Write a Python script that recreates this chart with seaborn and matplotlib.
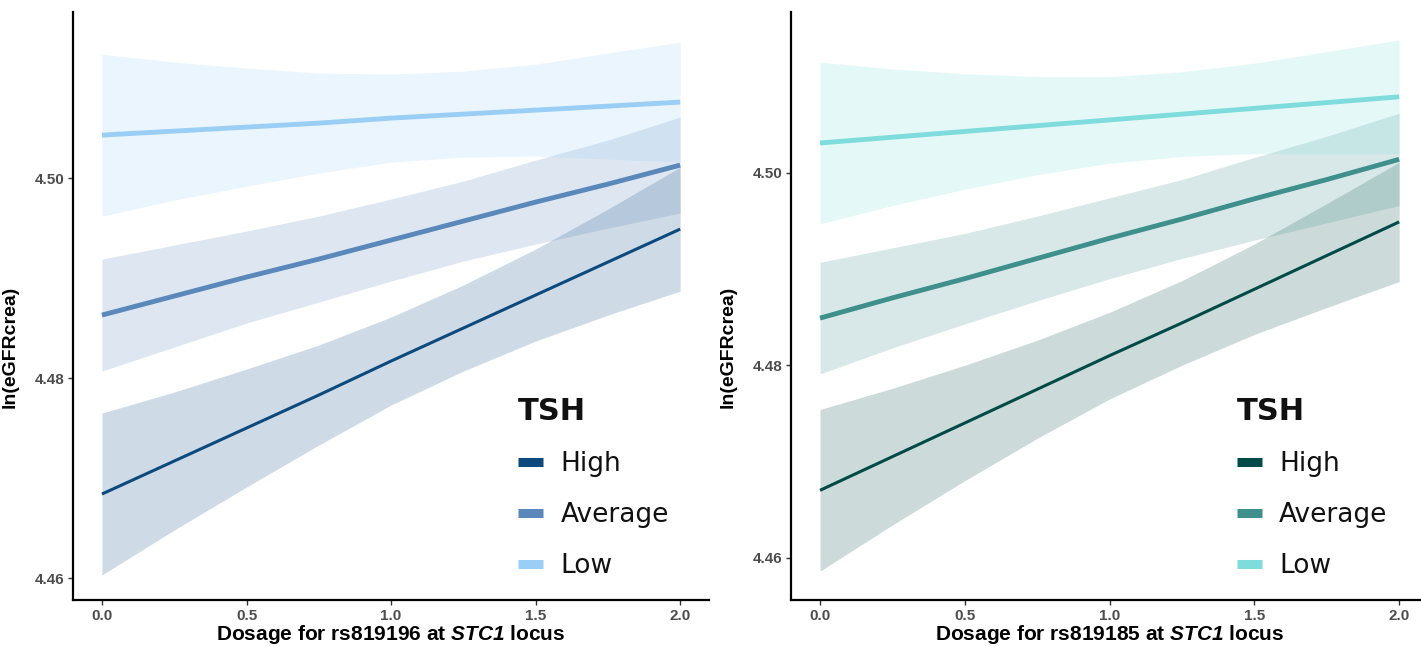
import matplotlib
matplotlib.use("Agg")
import matplotlib.pyplot as plt
from matplotlib.lines import Line2D
import numpy as np
import pandas as pd
import seaborn as sns

# values
dosage = [0.0, 0.25, 0.5, 0.75, 1.0, 1.25, 1.5, 1.75, 2.0]
groups = ["High", "Average", "Low"]

# rs819196 panel
high_fit_196 = [4.4684, 4.4717, 4.4750, 4.4783, 4.4817, 4.4850, 4.4883, 4.4916, 4.4949]
high_lo_196 = [4.4603, 4.4648, 4.4691, 4.4733, 4.4773, 4.4807, 4.4837, 4.4863, 4.4887]
high_hi_196 = [4.4765, 4.4786, 4.4809, 4.4833, 4.4861, 4.4893, 4.4929, 4.4969, 4.5011]
avg_fit_196 = [4.4863, 4.4882, 4.4901, 4.4919, 4.4938, 4.4957, 4.4976, 4.4994, 4.5013]
avg_lo_196 = [4.4807, 4.4831, 4.4855, 4.4876, 4.4897, 4.4917, 4.4934, 4.4950, 4.4965]
avg_hi_196 = [4.4919, 4.4933, 4.4947, 4.4962, 4.4979, 4.4997, 4.5018, 4.5038, 4.5061]
low_fit_196 = [4.5043, 4.5047, 4.5051, 4.5055, 4.5060, 4.5064, 4.5068, 4.5072, 4.5076]
low_lo_196 = [4.4962, 4.4978, 4.4992, 4.5005, 4.5016, 4.5021, 4.5022, 4.5019, 4.5016]
low_hi_196 = [4.5124, 4.5116, 4.5110, 4.5105, 4.5104, 4.5107, 4.5114, 4.5125, 4.5136]

# rs819185 panel
high_fit_185 = [4.4670, 4.4705, 4.4740, 4.4775, 4.4810, 4.4844, 4.4879, 4.4914, 4.4949]
high_lo_185 = [4.4586, 4.4634, 4.4680, 4.4724, 4.4765, 4.4800, 4.4832, 4.4860, 4.4887]
high_hi_185 = [4.4754, 4.4776, 4.4800, 4.4826, 4.4855, 4.4888, 4.4926, 4.4968, 4.5011]
avg_fit_185 = [4.4849, 4.4870, 4.4890, 4.4911, 4.4932, 4.4952, 4.4973, 4.4993, 4.5014]
avg_lo_185 = [4.4791, 4.4818, 4.4843, 4.4867, 4.4890, 4.4911, 4.4930, 4.4948, 4.4966]
avg_hi_185 = [4.4907, 4.4922, 4.4937, 4.4955, 4.4974, 4.4993, 4.5016, 4.5038, 4.5062]
low_fit_185 = [4.5031, 4.5037, 4.5043, 4.5049, 4.5055, 4.5061, 4.5067, 4.5073, 4.5079]
low_lo_185 = [4.4947, 4.4966, 4.4983, 4.4998, 4.5010, 4.5017, 4.5020, 4.5020, 4.5020]
low_hi_185 = [4.5115, 4.5108, 4.5103, 4.5100, 4.5100, 4.5105, 4.5114, 4.5126, 4.5138]

blues = {"High": "#0c4a7e", "Average": "#5a88ba", "Low": "#9acef5"}
teals = {"High": "#004b47", "Average": "#3f8f8c", "Low": "#7fdcdc"}
widths = {"High": 2.2, "Average": 3.5, "Low": 3.5}

sns.set_style("white")
plt.rcParams["font.family"] = ["Liberation Sans", "DejaVu Sans"]
plt.rcParams["mathtext.fontset"] = "custom"
plt.rcParams["mathtext.it"] = "Liberation Sans:italic:bold"
plt.rcParams["mathtext.rm"] = "Liberation Sans:italic:bold"

fig = plt.figure(figsize=(14.21, 6.46), dpi=100)
ax1 = fig.add_axes([0.0514, 0.0712, 0.4476, 0.910])
ax2 = fig.add_axes([0.5567, 0.0712, 0.4483, 0.910])


def panel(ax, fits, los, his, palette, snp, ylim):
    rows = []
    for g, f in zip(groups, fits):
        for d, v in zip(dosage, f):
            rows.append({"dosage": d, "fit": v, "TSH": g})
    df = pd.DataFrame(rows)

    for g, lo, hi in zip(groups, los, his):
        ax.fill_between(dosage, lo, hi, color=palette[g], alpha=0.2, lw=0)

    sns.lineplot(data=df, x="dosage", y="fit", hue="TSH", size="TSH",
                 hue_order=groups, size_order=groups, palette=palette,
                 sizes=widths, estimator=None, legend=False, ax=ax)
    for ln in ax.lines:
        ln.set_solid_capstyle("butt")

    ax.set_xlim(-0.1, 2.1)
    ax.set_ylim(*ylim)
    ax.set_xticks([0.0, 0.5, 1.0, 1.5, 2.0])
    ax.set_xticklabels(["0.0", "0.5", "1.0", "1.5", "2.0"])
    ax.set_yticks([4.46, 4.48, 4.50])
    ax.set_yticklabels(["4.46", "4.48", "4.50"])
    ax.tick_params(axis="both", bottom=True, left=True, length=3.5, width=1,
                   color="#333333", labelsize=11, labelcolor="#4d4d4d", pad=3)
    for t in ax.get_xticklabels() + ax.get_yticklabels():
        t.set_fontweight("bold")
    sns.despine(ax=ax)
    for s in ["left", "bottom"]:
        ax.spines[s].set_linewidth(1.6)
        ax.spines[s].set_color("black")

    ax.set_xlabel(f"Dosage for {snp} at $\\mathit{{STC1}}$ locus",
                  fontsize=15, fontweight="bold", labelpad=0, color="black")
    ax.set_ylabel("ln(eGFRcrea)", fontsize=14, fontweight="bold", color="black")
    ax.yaxis.set_label_coords(-0.086, 0.43)

    handles = [Line2D([0], [0], color=palette[g], lw=6.5, solid_capstyle="butt")
               for g in groups]
    leg = ax.legend(handles, groups, title="TSH", loc="upper left",
                    bbox_to_anchor=(0.70, 0.345), frameon=False,
                    prop={"family": "DejaVu Sans", "size": 19},
                    title_fontproperties={"family": "DejaVu Sans", "size": 22,
                                          "weight": "bold"},
                    handlelength=0.95, handletextpad=0.65, labelspacing=0.95,
                    borderpad=0, borderaxespad=0, labelcolor="#111111")
    leg.get_title().set_color("#111111")
    leg._legend_box.align = "left"


panel(ax1, [high_fit_196, avg_fit_196, low_fit_196],
      [high_lo_196, avg_lo_196, low_lo_196],
      [high_hi_196, avg_hi_196, low_hi_196],
      blues, "rs819196", (4.4578, 4.5166))
panel(ax2, [high_fit_185, avg_fit_185, low_fit_185],
      [high_lo_185, avg_lo_185, low_lo_185],
      [high_hi_185, avg_hi_185, low_hi_185],
      teals, "rs819185", (4.4556, 4.5167))

fig.savefig("out.png", dpi=100)
